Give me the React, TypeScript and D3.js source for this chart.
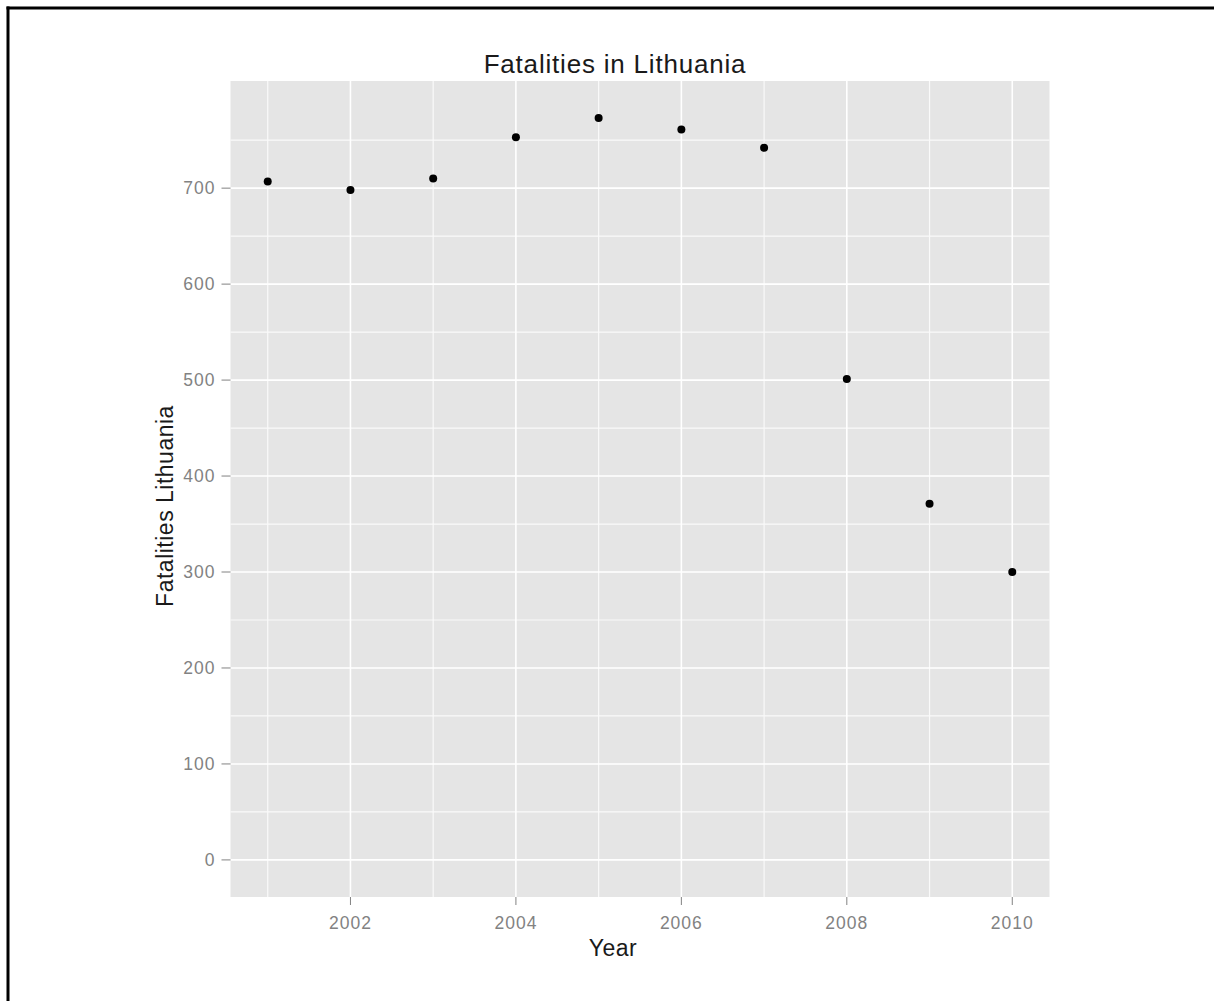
import React from "react";
import * as d3 from "d3";

const years = [2001, 2002, 2003, 2004, 2005, 2006, 2007, 2008, 2009, 2010];
const fatalities = [707, 698, 710, 753, 773, 761, 742, 501, 371, 300];
const xTicks = [2002, 2004, 2006, 2008, 2010];
const xMinor = [2001, 2003, 2005, 2007, 2009];
const yTicks = [0, 100, 200, 300, 400, 500, 600, 700];
const yMinor = [50, 150, 250, 350, 450, 550, 650, 750];
const title = "Fatalities in Lithuania";
const xTitle = "Year";
const yTitle = "Fatalities Lithuania";

export default function App() {
  const W = 1214;
  const H = 1001;
  const left = 230.5, right = 1049.5, top = 81, bottom = 897;

  const xMin = d3.min(years)!, xMax = d3.max(years)!;
  const xPad = (xMax - xMin) * 0.05;
  const x = d3.scaleLinear().domain([xMin - xPad, xMax + xPad]).range([left, right]);

  const yLo = 0, yHi = d3.max(fatalities)!;
  const yPad = (yHi - yLo) * 0.05;
  const y = d3.scaleLinear().domain([yLo - yPad, yHi + yPad]).range([bottom, top]);

  const font = "'Liberation Sans', Arial, sans-serif";
  const tickCol = "#828282";

  return (
    <svg width={W} height={H} style={{ position: "absolute", left: 0, top: 0, display: "block", background: "#fff" }}>
      <rect x={0} y={0} width={W} height={H} fill="#fff" />
      <line x1={6.5} y1={8} x2={W} y2={8} stroke="#000" strokeWidth={3} />
      <line x1={8} y1={6.5} x2={8} y2={H} stroke="#000" strokeWidth={3} />

      <rect x={left} y={top} width={right - left} height={bottom - top} fill="#e5e5e5" />
      {yMinor.map((v) => (
        <line key={"ym" + v} x1={left} x2={right} y1={y(v)} y2={y(v)} stroke="#fafafa" strokeWidth={1.2} />
      ))}
      {xMinor.map((v) => (
        <line key={"xm" + v} x1={x(v)} x2={x(v)} y1={top} y2={bottom} stroke="#fafafa" strokeWidth={1.2} />
      ))}
      {yTicks.map((v) => (
        <line key={"yg" + v} x1={left} x2={right} y1={y(v)} y2={y(v)} stroke="#fff" strokeWidth={1.6} />
      ))}
      {xTicks.map((v) => (
        <line key={"xg" + v} x1={x(v)} x2={x(v)} y1={top} y2={bottom} stroke="#fff" strokeWidth={1.6} />
      ))}

      {years.map((yr, i) => (
        <circle key={yr} cx={x(yr)} cy={y(fatalities[i])} r={4} fill="#000" />
      ))}

      {yTicks.map((v) => (
        <g key={"yt" + v}>
          <line x1={left - 9} x2={left} y1={y(v)} y2={y(v)} stroke={tickCol} strokeWidth={1} />
          <text x={left - 15} y={y(v)} dy="0.35em" textAnchor="end" fontFamily={font} fontSize={17.5} letterSpacing={1} fill={tickCol}>
            {v}
          </text>
        </g>
      ))}
      {xTicks.map((v) => (
        <g key={"xt" + v}>
          <line x1={x(v)} x2={x(v)} y1={bottom} y2={bottom + 8} stroke={tickCol} strokeWidth={1} />
          <text x={x(v)} y={929} textAnchor="middle" fontFamily={font} fontSize={17.5} letterSpacing={1} fill={tickCol}>
            {v}
          </text>
        </g>
      ))}

      <text x={615} y={73} textAnchor="middle" fontFamily={font} fontSize={26} letterSpacing={0.8} fill="#1a1a1a">
        {title}
      </text>
      <text x={613} y={956} textAnchor="middle" fontFamily={font} fontSize={23} letterSpacing={0.5} fill="#1a1a1a">
        {xTitle}
      </text>
      <text transform={`translate(173,506) rotate(-90)`} textAnchor="middle" fontFamily={font} fontSize={23} letterSpacing={0.5} fill="#1a1a1a">
        {yTitle}
      </text>
    </svg>
  );
}
